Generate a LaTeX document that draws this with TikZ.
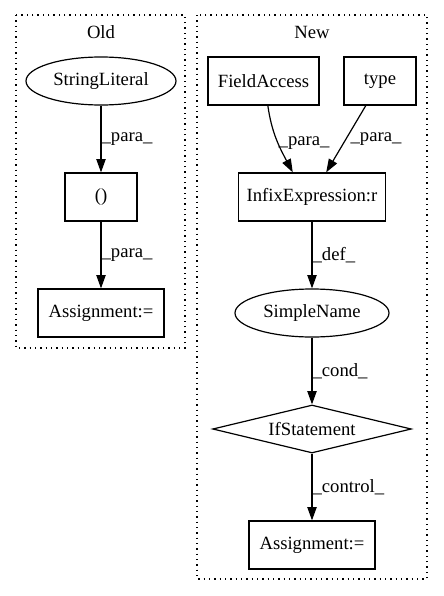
\documentclass[tikz,border=0pt]{standalone}
\usepackage{fontspec}
\setmainfont{Liberation Serif}
\usetikzlibrary{shapes.geometric, arrows.meta}

\begin{document}
\begin{tikzpicture}[x=0.75pt, y=-0.75pt,
		every node/.style={font=\fontsize{14}{16}\selectfont},
		box/.style={draw, line width=0.9pt, rectangle, minimum height=36pt, inner sep=0pt},
		oval/.style={draw, line width=0.9pt, ellipse, minimum height=36pt, inner sep=0pt},
		cond/.style={draw, line width=0.9pt, diamond, aspect=4, minimum width=149pt, minimum height=36pt, inner sep=0pt},
		arr/.style={-{Triangle[length=10pt, width=7pt]}, line width=0.9pt},
		lbl/.style={right, inner sep=0pt},
		cluster/.style={draw, line width=0.9pt, dash pattern=on 1pt off 3pt}]
		
		\useasboundingbox (0,0) rectangle (443,596);
		
		% Old and New clusters
		\draw[cluster] (16,15) rectangle (185,348);
		\draw[cluster] (197,15) rectangle (427,579);
		\node (oldlbl) at (101,32) {Old};
		\node (newlbl) at (312,32) {New};
		
		% Old nodes
		\node[oval, minimum width=112.5pt] (strlit) at (101,81) {StringLiteral};
		\node[box, minimum width=54pt] (paren) at (101,197) {()};
		\node[box, minimum width=94.5pt] (assignold) at (101,313) {Assignment:=};
		
		% New nodes
		\node[box, minimum width=83.25pt] (fieldacc) at (263.5,81) {FieldAccess};
		\node[box, minimum width=54pt] (type) at (380,81) {type};
		\node[box, minimum width=110.25pt] (infix) at (312,197) {InfixExpression:r};
		\node[oval, minimum width=115.5pt] (simplename) at (312,313) {SimpleName};
		\node[cond] (ifstmt) at (312,429) {IfStatement};
		\node[box, minimum width=94.5pt] (assignnew) at (312,545) {Assignment:=};
		
		% Old edges
		\draw[arr] (strlit) -- (paren) node[midway, lbl] {\_para\_};
		\draw[arr] (paren) -- (assignold) node[midway, lbl] {\_para\_};
		
		% New edges
		\draw[arr] (fieldacc.-80) to[out=-82, in=118] node[pos=0.55, lbl] {\_para\_} (infix.128);
		\draw[arr] (type.-120) -- (infix.60) node[midway, lbl, xshift=3] {\_para\_};
		\draw[arr] (infix) -- (simplename) node[midway, lbl] {\_def\_};
		\draw[arr] (simplename) -- (ifstmt) node[midway, lbl] {\_cond\_};
		\draw[arr] (ifstmt) -- (assignnew) node[midway, lbl] {\_control\_};
	\end{tikzpicture}
\end{document}
